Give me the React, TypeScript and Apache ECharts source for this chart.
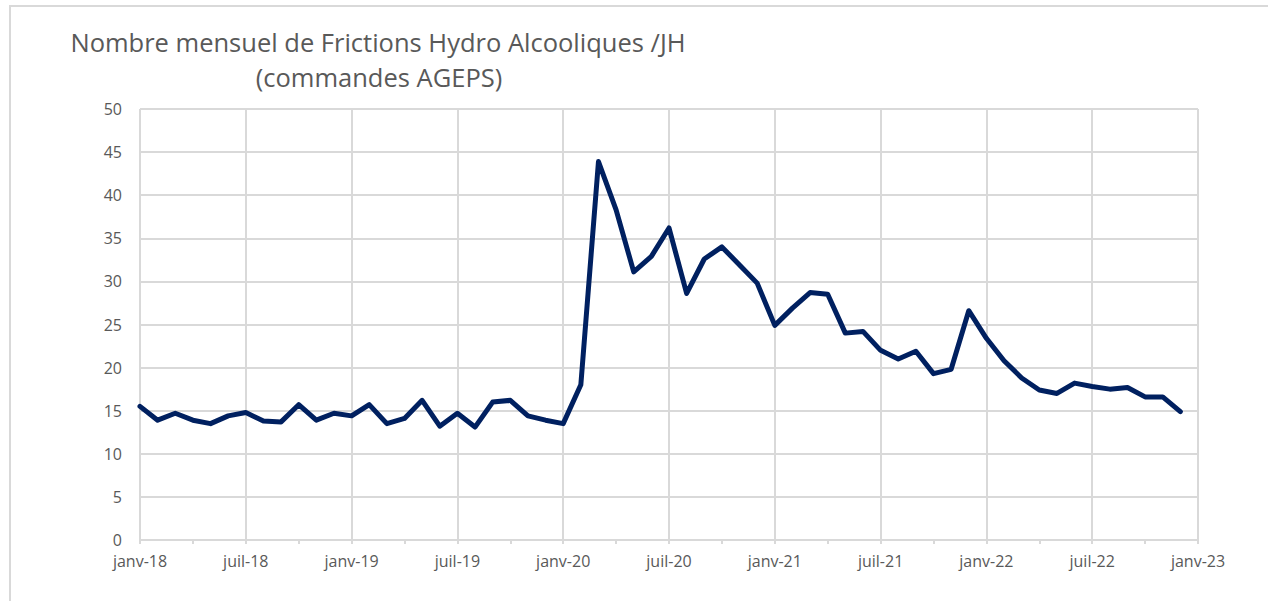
import React, { useEffect, useRef } from "react";
import * as echarts from "echarts";

const monthNames = ["janv", "févr", "mars", "avr", "mai", "juin", "juil", "août", "sept", "oct", "nov", "déc"];
const years = ["18", "19", "20", "21", "22", "23"];

const categories: string[] = [];
years.forEach((y, yi) => {
  monthNames.forEach((m, mi) => {
    if (yi < 5 || mi === 0) categories.push(`${m}-${y}`);
  });
});

const values: (number | null)[] = [
  15.5, 13.9, 14.7, 13.9, 13.5, 14.4, 14.8, 13.8, 13.7, 15.7, 13.9, 14.7,
  14.4, 15.7, 13.5, 14.1, 16.2, 13.2, 14.7, 13.1, 16.0, 16.2, 14.4, 13.9,
  13.5, 18.0, 43.9, 38.3, 31.1, 32.9, 36.2, 28.6, 32.6, 34.0, 31.9, 29.8,
  24.9, 26.9, 28.7, 28.5, 24.0, 24.2, 22.0, 21.0, 21.9, 19.3, 19.8, 26.6,
  23.4, 20.8, 18.8, 17.4, 17.0, 18.2, 17.8, 17.5, 17.7, 16.6, 16.6, 14.9,
  null,
];

const titleLines = ["Nombre mensuel de Frictions Hydro Alcooliques /JH", "(commandes AGEPS)"];

export default function App() {
  const ref = useRef<HTMLDivElement>(null);
  useEffect(() => {
    if (!ref.current) return;
    const chart = echarts.init(ref.current, undefined, { renderer: "svg" });
    const font = "'Open Sans', 'Noto Sans', sans-serif";
    chart.setOption({
      animation: false,
      backgroundColor: "#ffffff",
      graphic: [
        {
          type: "rect",
          shape: { x: 10, y: 6, width: 1400, height: 700 },
          style: { fill: "none", stroke: "#d9d9d9", lineWidth: 2 },
          silent: true,
        },
        {
          type: "text",
          x: 378,
          y: 42,
          style: {
            text: titleLines[0],
            font: `25.5px ${font}`,
            fill: "#595959",
            textAlign: "center",
            textVerticalAlign: "middle",
          },
        },
        {
          type: "text",
          x: 379,
          y: 77,
          style: {
            text: titleLines[1],
            font: `25.5px ${font}`,
            fill: "#595959",
            textAlign: "center",
            textVerticalAlign: "middle",
          },
        },
      ],
      grid: { left: 140, right: 70, top: 109, bottom: 61 },
      xAxis: {
        type: "category",
        data: categories,
        boundaryGap: false,
        axisLine: { lineStyle: { color: "#d9d9d9", width: 2 } },
        axisTick: { show: true, interval: 2, length: 4, lineStyle: { color: "#d9d9d9", width: 2 } },
        axisLabel: {
          interval: 5,
          color: "#595959",
          fontSize: 16,
          fontFamily: font,
          margin: 13,
        },
        splitLine: { show: true, interval: 5, lineStyle: { color: "#d9d9d9", width: 2 } },
      },
      yAxis: {
        type: "value",
        min: 0,
        max: 50,
        interval: 5,
        axisLine: { show: false },
        axisTick: { show: false },
        axisLabel: { color: "#595959", fontSize: 16, fontFamily: font, margin: 18 },
        splitLine: { lineStyle: { color: "#d9d9d9", width: 2 } },
      },
      series: [
        {
          type: "line",
          data: values,
          symbol: "none",
          lineStyle: { color: "#002060", width: 5, join: "round", cap: "round" },
          z: 5,
        },
      ],
    });
    return () => chart.dispose();
  }, []);
  return (
    <div
      ref={ref}
      style={{ position: "fixed", left: 0, top: 0, width: 1268, height: 601 }}
    />
  );
}
